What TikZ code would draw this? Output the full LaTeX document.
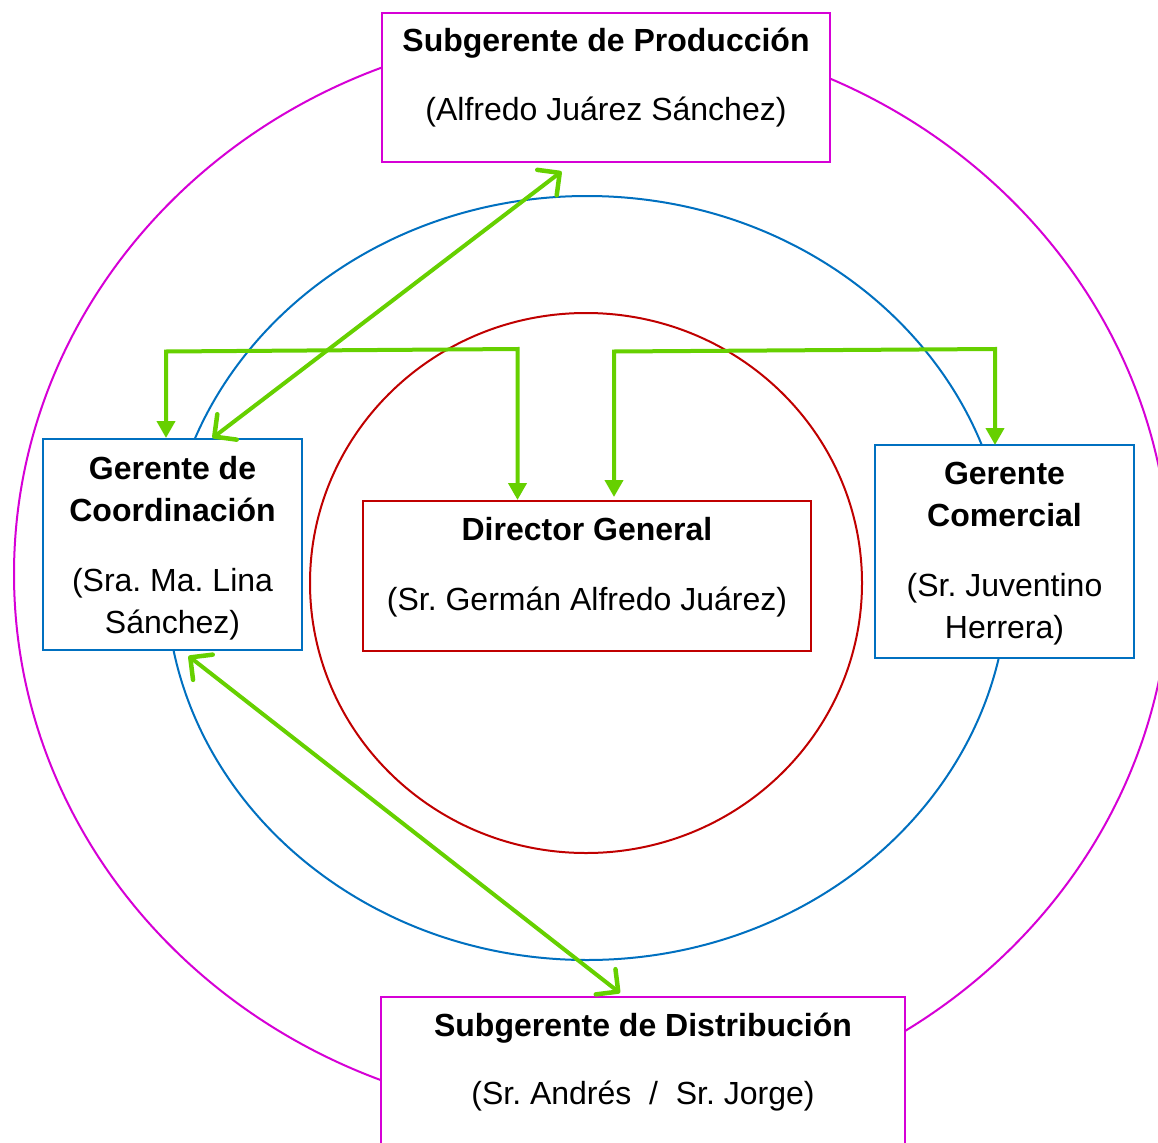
\documentclass[tikz,border=0pt]{standalone}
\usepackage{fontspec}
\setmainfont{Liberation Sans}
\usetikzlibrary{arrows.meta}
\frenchspacing
\definecolor{magc}{RGB}{214,0,214}
\definecolor{bluec}{RGB}{0,112,192}
\definecolor{redc}{RGB}{192,0,0}
\definecolor{greenc}{RGB}{102,208,0}
\tikzset{
  boxbase/.style={rectangle, fill=white, line width=2pt, inner sep=0pt},
  boxm/.style={boxbase, draw=magc},
  boxb/.style={boxbase, draw=bluec},
  boxr/.style={boxbase, draw=redc},
  headtxt/.style={font=\bfseries\fontsize{32}{42}\selectfont, anchor=base, inner sep=0pt},
  subtxt/.style={font=\fontsize{32}{42}\selectfont, anchor=base, inner sep=0pt},
  gline/.style={draw=greenc, line width=4pt},
  tri/.style={{Triangle[length=17pt,width=18pt]}-{Triangle[length=17pt,width=18pt]}},
  barb/.style={{Straight Barb[length=16pt,width=32pt,line width=4.5pt,round]}-{Straight Barb[length=16pt,width=32pt,line width=4.5pt,round]}}
}
\begin{document}
\begin{tikzpicture}[x=1pt,y=-1pt]
\clip (0,0) rectangle (1158,1142);
\fill[white] (0,0) rectangle (1158,1142);
% ellipses
\draw[magc, line width=2pt] (592,574) ellipse [x radius=578pt, y radius=543.5pt];
\draw[bluec, line width=2pt] (587,578) ellipse [x radius=421pt, y radius=382pt];
\draw[redc, line width=2pt] (586,583) ellipse [x radius=276pt, y radius=270pt];
% boxes
\node[boxm, minimum width=448pt, minimum height=149pt] (prod) at (606,87.5) {};
\node[boxb, minimum width=259pt, minimum height=211pt] (coord) at (172.5,544.5) {};
\node[boxr, minimum width=448pt, minimum height=150pt] (dir) at (587,576) {};
\node[boxb, minimum width=259pt, minimum height=213pt] (com) at (1004.5,551.5) {};
\node[boxm, minimum width=524pt, minimum height=183pt] (dist) at (643,1088.5) {};
% texts
\node[headtxt] (prodh) at (606,52) {Subgerente de Producción};
\node[subtxt] (prods) at (606,121) {(Alfredo Juárez Sánchez)};
\node[headtxt] (coordh1) at (172.5,479.5) {Gerente de};
\node[headtxt] (coordh2) at (172.5,521.5) {Coordinación};
\node[subtxt] (coords1) at (172.5,591.5) {(Sra. Ma. Lina};
\node[subtxt] (coords2) at (172.5,633.5) {Sánchez)};
\node[headtxt] (dirh) at (587,540.5) {Director General};
\node[subtxt] (dirs) at (587,610.5) {(Sr. Germán Alfredo Juárez)};
\node[headtxt] (comh1) at (1004.5,484.5) {Gerente};
\node[headtxt] (comh2) at (1004.5,526.5) {Comercial};
\node[subtxt] (coms1) at (1004.5,596.5) {(Sr. Juventino};
\node[subtxt] (coms2) at (1004.5,638.5) {Herrera)};
\node[headtxt] (disth) at (643,1036) {Subgerente de Distribución};
\node[subtxt] (dists) at (643,1104) {(Sr. Andrés\ \ /\ \ Sr. Jorge)};
% connector points
\coordinate (l1) at (166,438);
\coordinate (l2) at (166,351.5);
\coordinate (l3) at (517.5,349);
\coordinate (l4) at (517.5,500);
\coordinate (r1) at (614,497);
\coordinate (r2) at (614,351.5);
\coordinate (r3) at (995,349);
\coordinate (r4) at (995,445);
\coordinate (d1) at (212.5,438);
\coordinate (d2) at (561.5,171.5);
\coordinate (e1) at (188.5,656);
\coordinate (e2) at (620,993);
% connectors
\draw[gline, tri] (l1) -- (l2) -- (l3) -- (l4);
\draw[gline, tri] (r1) -- (r2) -- (r3) -- (r4);
\draw[gline, barb] (d1) -- (d2);
\draw[gline, barb] (e1) -- (e2);
\end{tikzpicture}
\end{document}
